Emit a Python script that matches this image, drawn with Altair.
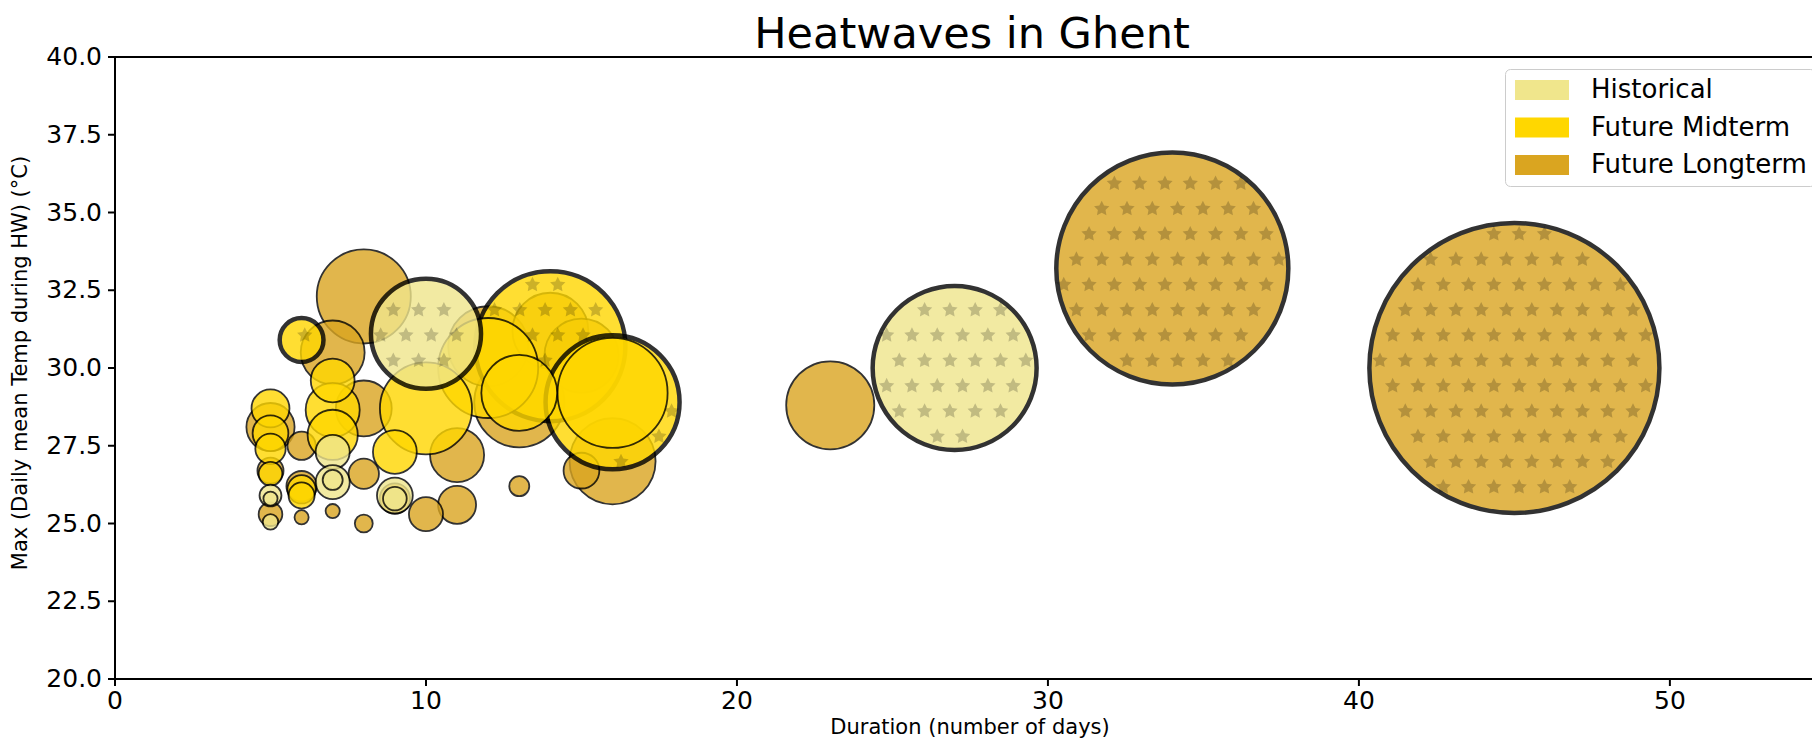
import math
import altair as alt
import pandas as pd

# ---------------- text ----------------
TITLE = "Heatwaves in Ghent"
X_TITLE = "Duration (number of days)"
Y_TITLE = "Max (Daily mean Temp during HW) (°C)"
SCENARIOS = ["Historical", "Future Midterm", "Future Longterm"]
COLORS = ["#F0E68C", "#FFD700", "#DAA520"]
X_TICKS = [0, 10, 20, 30, 40, 50]
Y_TICKS = [20.0, 22.5, 25.0, 27.5, 30.0, 32.5, 35.0, 37.5, 40.0]

# ---------------- data ----------------
# duration (days), max daily mean temperature (°C), heatwave magnitude, record flag
hist_duration = [10, 27, 7, 7, 7, 5, 5, 9, 9, 5]
hist_tmax = [31.1, 30.0, 27.3, 26.33, 26.4, 25.9, 25.05, 25.9, 25.8, 25.8]
hist_magnitude = [30.3, 67.2, 2.9, 2.9, 1.0, 1.2, 0.6, 3.2, 1.4, 0.5]
hist_record = [1, 1, 0, 0, 0, 0, 0, 0, 0, 0]

mid_duration = [6, 14, 16, 16, 10, 12, 13, 7, 7, 7, 5, 5, 5, 5, 6, 6, 9]
mid_tmax = [30.9, 30.7, 28.9, 29.2, 28.7, 30.0, 29.2, 29.6, 28.65, 27.85,
            28.7, 27.9, 27.4, 26.6, 25.9, 26.1, 27.3]
mid_magnitude = [4.8, 56.3, 44.9, 30.3, 21.2, 25.0, 14.4, 4.8, 7.3, 6.3,
                 3.6, 3.2, 2.3, 1.4, 1.7, 2.0, 4.8]
mid_record = [1, 1, 1, 0, 0, 0, 0, 0, 0, 0, 0, 0, 0, 0, 0, 0, 0]

long_duration = [45, 34, 23, 8, 7, 8, 5, 6, 6, 6, 7, 8, 8, 10, 11, 11, 13,
                 15, 16, 13, 12, 14, 15, 5, 9, 5]
long_tmax = [30.0, 33.2, 28.8, 32.3, 30.5, 28.7, 28.1, 27.5, 26.2, 25.2, 25.4,
             25.0, 26.6, 25.3, 25.6, 27.2, 26.2, 26.7, 27.0, 28.9, 30.7, 31.2,
             30.4, 25.3, 25.8, 26.7]
long_magnitude = [210.3, 134.6, 19.4, 22.1, 10.2, 7.8, 5.8, 2.0, 2.3, 0.5, 0.5,
                  0.8, 2.3, 2.9, 3.6, 7.3, 1.0, 3.2, 18.5, 20.3, 16.0, 14.4,
                  13.7, 1.4, 2.3, 1.7]
long_record = [1, 1] + [0] * 24

# ---------------- layout constants ----------------
W, H = 1697, 622
X_MAX = 54.57
Y_MIN, Y_MAX = 20.0, 40.0
PX = W / X_MAX
PY = H / (Y_MAX - Y_MIN)
R_UNIT = 10.0          # px of radius per sqrt(magnitude)
STAR_SP = 25.3         # hatch spacing (px)
TICK = 7
FONT = "DejaVu Sans"
STAR_PATH = ("M0,-1L0.294,-0.405L0.951,-0.309L0.476,0.155L0.588,0.809L0,0.5"
             "L-0.588,0.809L-0.476,0.155L-0.951,-0.309L-0.294,-0.405Z")

series = [
    ("Future Longterm", long_duration, long_tmax, long_magnitude, long_record),
    ("Future Midterm", mid_duration, mid_tmax, mid_magnitude, mid_record),
    ("Historical", hist_duration, hist_tmax, hist_magnitude, hist_record),
]

rows = []
z = 0
for name, d, t, m, r in series:
    sub = sorted(zip(d, t, m, r), key=lambda q: -q[2])
    for dd, tt, mm, rr in sub:
        rows.append(dict(scenario=name, duration=dd, tmax=tt, magnitude=mm,
                         record=rr, z=z))
        z += 1
df = pd.DataFrame(rows)
MAG_MAX = df["magnitude"].max()

# hatch texture ('*') for record events, derived from the bubbles above
circ = df.assign(cx=df.duration * PX, cy=(Y_MAX - df.tmax) * PY,
                 r=R_UNIT * df.magnitude ** 0.5)
star_rows = []
for _, c in circ[circ.record == 1].iterrows():
    later = circ[circ.z > c.z]
    j0 = int(math.floor((c.cy - c.r) / STAR_SP))
    j1 = int(math.ceil((c.cy + c.r) / STAR_SP))
    for j in range(j0, j1 + 1):
        yy = j * STAR_SP
        off = (j % 2) * STAR_SP / 2
        k0 = int(math.floor((c.cx - c.r) / STAR_SP)) - 1
        k1 = int(math.ceil((c.cx + c.r) / STAR_SP)) + 1
        for k in range(k0, k1 + 1):
            xx = k * STAR_SP + off
            if math.hypot(xx - c.cx, yy - c.cy) > c.r - 6:
                continue
            hidden = False
            for _, l in later.iterrows():
                if math.hypot(xx - l.cx, yy - l.cy) < l.r + 2:
                    hidden = True
                    break
            if not hidden:
                star_rows.append(dict(scenario=c.scenario, duration=xx / PX,
                                      tmax=Y_MAX - yy / PY))
stars = pd.DataFrame(star_rows)

# ---------------- scales / guides ----------------
xscale = alt.Scale(domain=[0, X_MAX], nice=False, zero=False)
yscale = alt.Scale(domain=[Y_MIN, Y_MAX], nice=False, zero=False)
# Vega circle radius = sqrt(size)/2
sscale = alt.Scale(domain=[0, MAG_MAX], range=[0, 4 * R_UNIT ** 2 * MAG_MAX])
cscale = alt.Scale(domain=SCENARIOS, range=COLORS)

legend = alt.Legend(
    title=None, orient="none", legendX=1390, legendY=12,
    symbolType="M-2.7,-1H2.7V1H-2.7Z", symbolSize=400,
    symbolOpacity=1, symbolStrokeWidth=0, symbolOffset=16,
    labelFontSize=26, labelFont=FONT, labelColor="black", labelLimit=500,
    labelOffset=36, rowPadding=11.5, padding=8,
    strokeColor="#cccccc", fillColor="white", cornerRadius=5,
)

layers = []
for name, *_rest in series:
    circles = alt.Chart(df[df.scenario == name]).mark_circle(
        stroke="black", opacity=0.8
    ).encode(
        x=alt.X("duration:Q", scale=xscale, axis=None),
        y=alt.Y("tmax:Q", scale=yscale, axis=None),
        size=alt.Size("magnitude:Q", scale=sscale, legend=None),
        color=alt.Color("scenario:N", scale=cscale, legend=legend),
        strokeWidth=alt.condition("datum.record == 1", alt.value(4.5), alt.value(1.8)),
        order=alt.Order("magnitude:Q", sort="descending"),
    )
    star_layer = alt.Chart(stars[stars.scenario == name]).mark_point(
        shape=STAR_PATH, filled=True, color="black", opacity=0.2, size=260,
        strokeWidth=0
    ).encode(
        x=alt.X("duration:Q", scale=xscale, axis=None),
        y=alt.Y("tmax:Q", scale=yscale, axis=None),
    )
    layers += [circles, star_layer]

# ---------------- frame, ticks and labels ----------------
xt = pd.DataFrame({"v": X_TICKS, "label": [str(v) for v in X_TICKS]})
yt = pd.DataFrame({"v": Y_TICKS, "label": [f"{v:.1f}" for v in Y_TICKS]})
spine_x = pd.DataFrame({"v": [0.0]})
spine_y = pd.DataFrame({"v": [Y_MIN, Y_MAX]})

left_spine = alt.Chart(spine_x).mark_rule(color="black", strokeWidth=2).encode(
    x=alt.X("v:Q", scale=xscale, axis=None))
hz_spines = alt.Chart(spine_y).mark_rule(color="black", strokeWidth=2).encode(
    y=alt.Y("v:Q", scale=yscale, axis=None))
x_ticks = alt.Chart(xt).mark_rule(color="black", strokeWidth=2).encode(
    x=alt.X("v:Q", scale=xscale, axis=None),
    y=alt.value(H), y2=alt.value(H + TICK))
x_labels = alt.Chart(xt).mark_text(
    font=FONT, fontSize=25, color="black", align="center", baseline="top"
).encode(x=alt.X("v:Q", scale=xscale, axis=None), y=alt.value(H + TICK + 3),
         text="label:N")
y_ticks = alt.Chart(yt).mark_rule(color="black", strokeWidth=2).encode(
    y=alt.Y("v:Q", scale=yscale, axis=None),
    x=alt.value(-TICK), x2=alt.value(0))
y_labels = alt.Chart(yt).mark_text(
    font=FONT, fontSize=25, color="black", align="right", baseline="middle"
).encode(y=alt.Y("v:Q", scale=yscale, axis=None), x=alt.value(-TICK - 6),
         text="label:N")
x_title = alt.Chart(pd.DataFrame({"t": [X_TITLE]})).mark_text(
    font=FONT, fontSize=21, color="black", align="center", baseline="alphabetic"
).encode(x=alt.value(855), y=alt.value(H + 55), text="t:N")
y_title = alt.Chart(pd.DataFrame({"t": [Y_TITLE]})).mark_text(
    font=FONT, fontSize=21, color="black", align="center", baseline="middle",
    angle=270
).encode(x=alt.value(-94), y=alt.value(306), text="t:N")
main_title = alt.Chart(pd.DataFrame({"t": [TITLE]})).mark_text(
    font=FONT, fontSize=43, color="black", align="center", baseline="alphabetic"
).encode(x=alt.value(857), y=alt.value(-9), text="t:N")

layers += [left_spine, hz_spines, x_ticks, x_labels, y_ticks, y_labels,
           x_title, y_title, main_title]

chart = alt.layer(*layers).properties(
    width=W, height=H,
    autosize=alt.AutoSizeParams(type="none"),
    padding={"left": 107, "top": 49, "right": 0, "bottom": 61},
).configure_view(stroke=None)

chart.save("out.html", embed_options={"renderer": "svg", "actions": False})
